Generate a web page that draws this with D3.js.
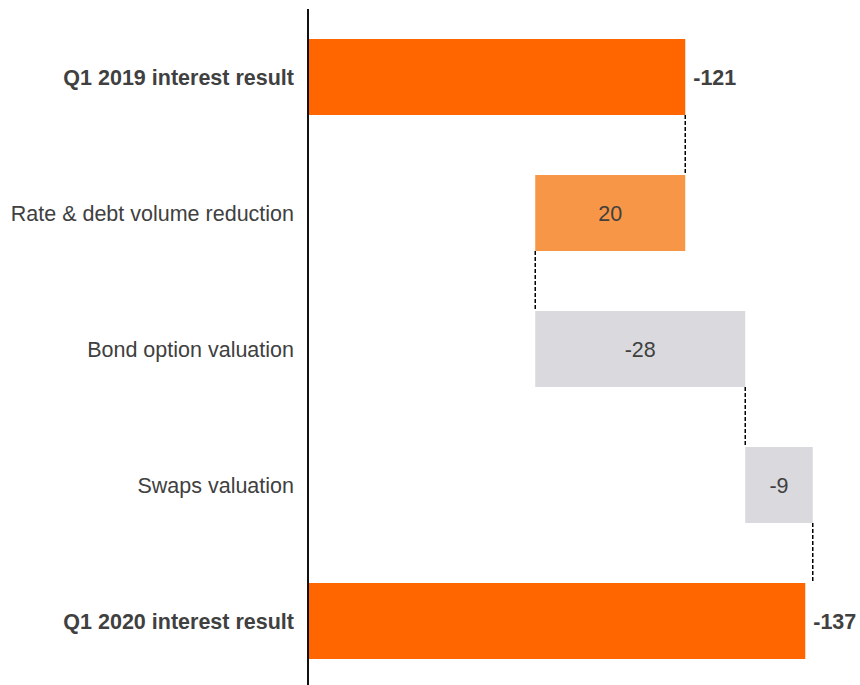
<!DOCTYPE html>
<html>
<head>
<meta charset="utf-8">
<script src="https://cdn.jsdelivr.net/npm/d3@7"></script>
<style>
  html, body { margin: 0; padding: 0; background: #fff; }
  svg { display: block; font-family: "Liberation Sans", Arial, sans-serif; }
</style>
</head>
<body>
<svg id="chart" width="860" height="685"></svg>
<script>
// Interest result bridge, Q1 2019 -> Q1 2020 (EUR m)
const categories = [
  "Q1 2019 interest result",
  "Rate & debt volume reduction",
  "Bond option valuation",
  "Swaps valuation",
  "Q1 2020 interest result"
];
const values = [-121, 20, -28, -9, -137];
const kinds = ["total", "delta", "delta", "delta", "total"];

const W = 860, H = 685;
const axisX = 308;
const svg = d3.select("#chart");

// Build waterfall segments from the running level
let level = 0;
const rows = categories.map((c, i) => {
  const v = values[i];
  let from, to;
  if (kinds[i] === "total") { from = null; to = v; level = v; }
  else { from = level; to = level + v; level = to; }
  return { cat: c, value: v, kind: kinds[i], from, to };
});

// The value axis starts away from zero (broken axis), so totals are clipped at the axis line
const x = d3.scaleLinear().domain([-70.7, -142.7]).range([axisX, axisX + 72 * 7.5]);
const y = d3.scaleBand().domain(categories).range([39, 659]).paddingInner(0.4412).paddingOuter(0);

const colorTotal = "#FF6600";
const colorUp = "#F79646";
const colorDown = "#D9D9DE";
const textCol = "#404040";
const fs = 21.5;

const bars = svg.append("g");
rows.forEach(r => {
  let x0, x1, fill;
  if (r.kind === "total") {
    x0 = x.range()[0]; x1 = x(r.to); fill = colorTotal;
  } else {
    x0 = Math.min(x(r.from), x(r.to)); x1 = Math.max(x(r.from), x(r.to));
    fill = r.value > 0 ? colorUp : colorDown;
  }
  bars.append("rect")
    .attr("x", x0).attr("y", y(r.cat))
    .attr("width", x1 - x0).attr("height", y.bandwidth())
    .attr("fill", fill);

  const cy = y(r.cat) + y.bandwidth() / 2;
  if (r.kind === "total") {
    svg.append("text")
      .attr("x", x1 + 8).attr("y", cy).attr("dy", "0.35em")
      .attr("font-size", fs).attr("font-weight", "bold")
      .attr("fill", textCol).text(r.value);
  } else {
    svg.append("text")
      .attr("x", (x0 + x1) / 2).attr("y", cy).attr("dy", "0.35em")
      .attr("text-anchor", "middle")
      .attr("font-size", fs).attr("fill", textCol).text(r.value);
  }

  svg.append("text")
    .attr("x", 294).attr("y", cy).attr("dy", "0.35em")
    .attr("text-anchor", "end")
    .attr("font-size", fs)
    .attr("font-weight", r.kind === "total" ? "bold" : "normal")
    .attr("fill", textCol).text(r.cat);
});

// Dashed connectors between consecutive bars at the running level
for (let i = 0; i < rows.length - 1; i++) {
  const a = rows[i], b = rows[i + 1];
  const lx = x(a.to);
  svg.append("line")
    .attr("x1", lx).attr("x2", lx)
    .attr("y1", y(a.cat) + y.bandwidth())
    .attr("y2", y(b.cat))
    .attr("stroke", "#000").attr("stroke-width", 1.5)
    .attr("stroke-dasharray", "4,2");
}

// Category axis line
svg.append("line")
  .attr("x1", axisX).attr("x2", axisX)
  .attr("y1", 9).attr("y2", H)
  .attr("stroke", "#111").attr("stroke-width", 2);
</script>
</body>
</html>
